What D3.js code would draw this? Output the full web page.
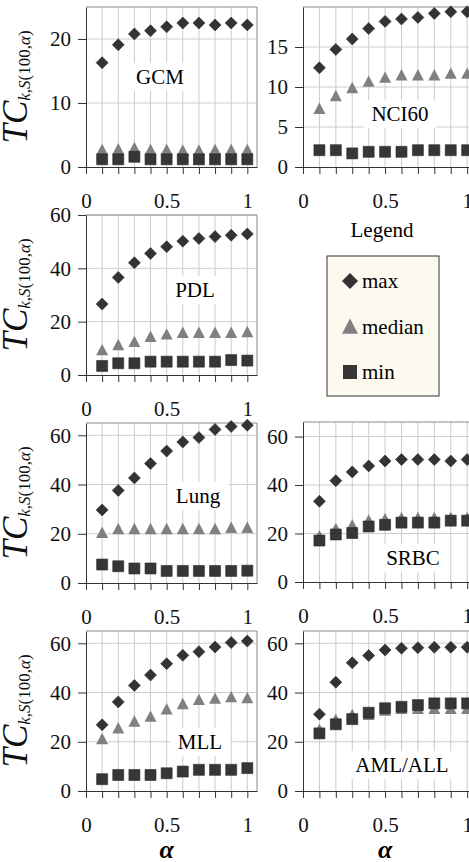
<!DOCTYPE html>
<html>
<head>
<meta charset="utf-8">
<script src="https://cdn.jsdelivr.net/npm/d3@7"></script>
<style>
  body { margin: 0; background: white; }
  svg text { font-family: "Liberation Serif", "Times New Roman", serif; }
</style>
</head>
<body>
<script>
// alpha values shared by all data sets
const alphas = [0.1, 0.2, 0.3, 0.4, 0.5, 0.6, 0.7, 0.8, 0.9, 1.0];

const gcmMax = [16.3, 19.1, 20.8, 21.3, 21.9, 22.5, 22.5, 22.2, 22.5, 22.2];
const gcmMed = [2.7, 2.8, 3.0, 2.7, 2.7, 2.6, 2.6, 2.7, 2.7, 2.7];
const gcmMin = [1.2, 1.2, 1.6, 1.2, 1.2, 1.2, 1.2, 1.2, 1.2, 1.2];

const nciMax = [12.4, 14.7, 16.0, 17.3, 18.2, 18.5, 18.7, 19.2, 19.4, 19.4];
const nciMed = [7.3, 8.9, 9.9, 10.7, 11.2, 11.5, 11.5, 11.5, 11.7, 11.7];
const nciMin = [2.1, 2.1, 1.7, 1.9, 1.9, 1.9, 2.1, 2.1, 2.1, 2.1];

const pdlMax = [26.6, 36.6, 42.1, 45.6, 48.1, 50.2, 51.2, 51.9, 52.4, 52.9];
const pdlMed = [9.4, 11.3, 12.5, 14.4, 15.3, 15.9, 15.9, 15.9, 15.9, 16.2];
const pdlMin = [3.4, 4.4, 4.4, 5.0, 5.0, 5.0, 5.0, 5.0, 5.6, 5.4];

const lungMax = [29.7, 37.6, 42.7, 48.5, 53.6, 57.3, 59.1, 62.4, 63.6, 64.1];
const lungMed = [20.5, 22, 22, 22, 22, 22, 22, 22, 22.5, 22.5];
const lungMin = [7.5, 6.8, 5.9, 5.9, 4.9, 4.9, 4.9, 4.9, 4.9, 5.0];

const srbcMax = [33.3, 41.8, 45.4, 47.9, 49.9, 50.5, 50.5, 50.5, 49.9, 50.5];
const srbcMed = [19, 22, 23.5, 25.5, 26, 26.5, 26.5, 26.5, 26.5, 26.5];
const srbcMin = [17.1, 19.6, 20.2, 22.9, 23.6, 24.5, 24.5, 24.5, 25.3, 25.3];

const mllMax = [26.9, 36.2, 42.9, 47.1, 51.7, 55.1, 56.6, 58.5, 60.3, 60.9];
const mllMed = [21.2, 25.6, 28.3, 30.3, 33.3, 35.4, 37.1, 37.6, 38.2, 37.8];
const mllMin = [4.8, 6.5, 6.5, 6.5, 7.2, 7.9, 8.6, 8.6, 8.6, 9.3];

const amlMax = [31.2, 44.2, 52.1, 55.0, 57.3, 58.0, 58.2, 58.4, 58.4, 58.4];
const amlMed = [25, 29, 31, 31, 32.8, 33.5, 33.5, 33.5, 33.5, 33.5];
const amlMin = [23.4, 27.1, 29.2, 31.8, 33.6, 34.2, 34.9, 35.6, 35.6, 35.6];

const seriesNames = ["max", "median", "min"];

// panel layout (pixels)
const W = 469, H = 862;
const cols = [[86, 257], [303, 477]];
const panels = [
    { name: "GCM", data: [gcmMax, gcmMed, gcmMin], col: 0, top: 7, bottom: 167, yMax: 25, yTicks: [0, 10, 20], lx: 160, ly: 77 },
    { name: "NCI60", data: [nciMax, nciMed, nciMin], col: 1, top: 7, bottom: 167, yMax: 20, yTicks: [0, 5, 10, 15], lx: 400, ly: 114 },
    { name: "PDL", data: [pdlMax, pdlMed, pdlMin], col: 0, top: 215, bottom: 375, yMax: 60, yTicks: [0, 20, 40, 60], lx: 195, ly: 290 },
    { name: "Lung", data: [lungMax, lungMed, lungMin], col: 0, top: 423, bottom: 583, yMax: 65, yTicks: [0, 20, 40, 60], lx: 198, ly: 496 },
    { name: "SRBC", data: [srbcMax, srbcMed, srbcMin], col: 1, top: 422, bottom: 582, yMax: 66, yTicks: [0, 20, 40, 60], lx: 413, ly: 558 },
    { name: "MLL", data: [mllMax, mllMed, mllMin], col: 0, top: 631, bottom: 791, yMax: 65, yTicks: [0, 20, 40, 60], lx: 200, ly: 742 },
    { name: "AML/ALL", data: [amlMax, amlMed, amlMin], col: 1, top: 631, bottom: 791, yMax: 65, yTicks: [0, 20, 40, 60], lx: 402, ly: 765 }
];

const fillColors = ["#333333", "#808080", "#363636"];
const serif = "Liberation Serif, Times New Roman, serif";

// custom marker shapes, size = bounding width squared
const diamond = {
    draw(ctx, size) {
        const r = Math.sqrt(size) / 2;
        ctx.moveTo(0, -r); ctx.lineTo(r, 0); ctx.lineTo(0, r); ctx.lineTo(-r, 0); ctx.closePath();
    }
};
const triangle = {
    draw(ctx, size) {
        const r = Math.sqrt(size) / 2;
        ctx.moveTo(0, -r); ctx.lineTo(r, r * 0.9); ctx.lineTo(-r, r * 0.9); ctx.closePath();
    }
};
const square = {
    draw(ctx, size) {
        const r = Math.sqrt(size) / 2;
        ctx.rect(-r, -r, 2 * r, 2 * r);
    }
};
const shapes = [diamond, triangle, square];
const shapeSizes = [144, 144, 121];

const svg = d3.select("body").append("svg")
    .attr("width", W)
    .attr("height", H)
    .attr("font-family", serif);

const fontSize = 21;
const gridTicks = d3.range(1, 11).map(d => d / 10);

panels.forEach(p => {
    const x = d3.scaleLinear([0, 1.06], cols[p.col]);
    const y = d3.scaleLinear([0, p.yMax], [p.bottom, p.top]);
    const g = svg.append("g");
    const [x0, x1] = cols[p.col];

    // grid
    g.append("g").selectAll("line.v")
        .data(gridTicks)
        .enter().append("line")
        .attr("x1", d => x(d)).attr("x2", d => x(d))
        .attr("y1", p.top).attr("y2", p.bottom)
        .attr("stroke", "#cccccc");
    g.append("g").selectAll("line.h")
        .data(p.yTicks.filter(d => d > 0))
        .enter().append("line")
        .attr("x1", x0).attr("x2", x1)
        .attr("y1", d => y(d)).attr("y2", d => y(d))
        .attr("stroke", "#cccccc");

    // panel label on white box
    const lbl = g.append("text")
        .attr("x", p.lx).attr("y", p.ly)
        .attr("dy", "0.35em")
        .attr("text-anchor", "middle")
        .attr("font-size", fontSize)
        .text(p.name);
    const bb = lbl.node().getBBox();
    g.insert("rect", "text")
        .attr("x", bb.x - 8).attr("y", p.ly - 14)
        .attr("width", bb.width + 16).attr("height", 28)
        .attr("fill", "white");

    // outer frame
    g.append("path")
        .attr("d", `M${x0},${p.top}H${x1}V${p.bottom}`)
        .attr("fill", "none")
        .attr("stroke", "#8a8a8a");

    // axes
    g.append("g")
        .attr("transform", `translate(0,${p.bottom})`)
        .call(d3.axisBottom(x).tickValues([0].concat(gridTicks)).tickSize(7).tickSizeOuter(0).tickFormat(""));
    const xLabels = g.append("g")
        .attr("transform", `translate(0,${p.bottom})`)
        .call(d3.axisBottom(x).tickValues([0, 0.5, 1]).tickSize(0).tickPadding(26).tickFormat(d3.format("")));
    xLabels.select(".domain").remove();

    g.append("g")
        .attr("transform", `translate(${x0},0)`)
        .call(d3.axisLeft(y).tickValues(p.yTicks).tickSize(8).tickSizeOuter(0).tickPadding(7));

    g.selectAll("g").attr("font-family", serif);
    g.selectAll(".domain, .tick line").attr("stroke", "#333");
    g.selectAll(".tick text")
        .attr("font-size", fontSize)
        .attr("fill", "#111");

    // markers
    p.data.forEach((vals, si) => {
        g.append("g").selectAll("path")
            .data(vals)
            .enter().append("path")
            .attr("transform", (d, i) => `translate(${x(alphas[i])},${y(d)})`)
            .attr("d", d3.symbol().type(shapes[si]).size(shapeSizes[si]))
            .attr("fill", fillColors[si])
            .attr("stroke", si === 1 ? "none" : "#2a2a2a")
            .attr("stroke-width", 0.6);
    });

    // y axis title on the left column
    if (p.col === 0) {
        const t = svg.append("text")
            .attr("transform", `translate(27,${(p.top + p.bottom) / 2}) rotate(-90)`)
            .attr("text-anchor", "middle")
            .attr("fill", "#111");
        t.append("tspan").attr("font-size", 35).attr("font-style", "italic").text("TC");
        const sub = t.append("tspan").attr("font-size", 17).attr("dy", 3);
        sub.append("tspan").attr("font-style", "italic").text("k");
        sub.append("tspan").text(",");
        sub.append("tspan").attr("font-style", "italic").text("S");
        sub.append("tspan").text("(100,");
        sub.append("tspan").attr("font-style", "italic").text("α");
        sub.append("tspan").text(")");
    }

    // alpha label under the bottom row
    if (p.bottom === 791) {
        svg.append("text")
            .attr("x", x(0.5)).attr("y", 858)
            .attr("text-anchor", "middle")
            .attr("font-size", 26)
            .attr("font-weight", "bold")
            .attr("font-style", "italic")
            .text("α");
    }
});

// legend
svg.append("text")
    .attr("x", 382).attr("y", 230)
    .attr("dy", "0.35em")
    .attr("text-anchor", "middle")
    .attr("font-size", fontSize)
    .text("Legend");

svg.append("rect")
    .attr("x", 327).attr("y", 256)
    .attr("width", 112).attr("height", 140)
    .attr("fill", "#fdf9ee")
    .attr("stroke", "#333");

const legendY = d3.scalePoint(seriesNames, [281, 372]);
const legendItems = svg.append("g").selectAll("g")
    .data(seriesNames)
    .enter().append("g")
    .attr("transform", d => `translate(350,${legendY(d)})`);
legendItems.append("path")
    .attr("d", (d, i) => d3.symbol().type(shapes[i]).size(i === 2 ? 196 : 256)())
    .attr("fill", (d, i) => fillColors[i]);
legendItems.append("text")
    .attr("x", 12)
    .attr("dy", "0.35em")
    .attr("font-size", fontSize)
    .text(d => d);
</script>
</body>
</html>
